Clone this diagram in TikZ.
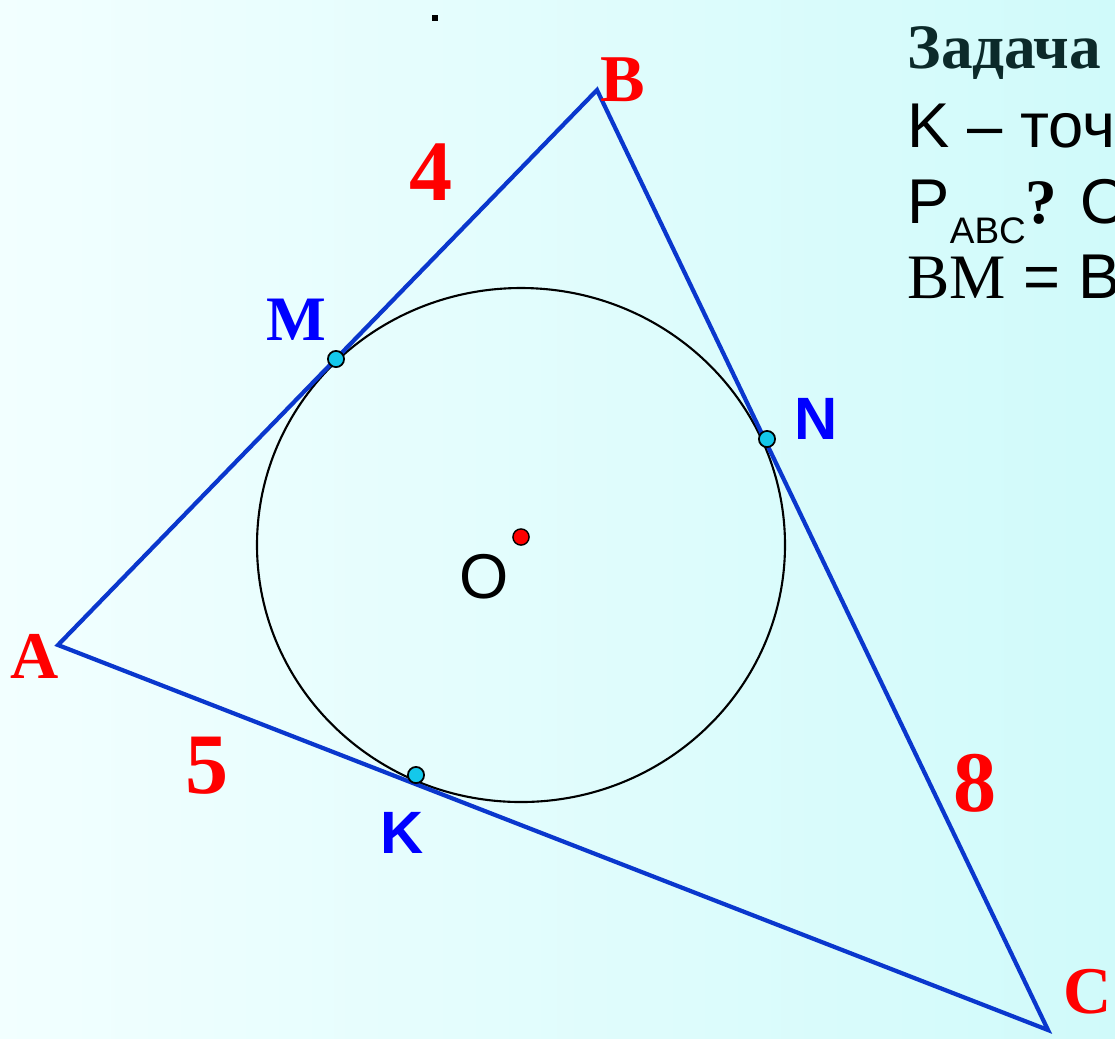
\documentclass[tikz,border=0pt]{standalone}
\usepackage{fontspec}
\setmainfont{Liberation Serif}
\setsansfont{Liberation Sans}
\usetikzlibrary{positioning}

\definecolor{sideblue}{RGB}{10,55,205}
\definecolor{ptcyan}{RGB}{20,200,235}
\definecolor{titleteal}{RGB}{12,42,42}
\definecolor{bgleft}{RGB}{242,255,255}
\definecolor{bgright}{RGB}{208,250,250}

\tikzset{
  vlabel/.style={text=red,font=\bfseries\fontsize{19}{19}\selectfont,inner sep=0pt},
  numlabel/.style={text=red,font=\bfseries\fontsize{24.5}{24.5}\selectfont,inner sep=0pt},
  tplabel/.style={text=blue,font=\sffamily\bfseries\fontsize{17}{17}\selectfont,inner sep=0pt},
  tpoint/.style={circle,draw=black,fill=ptcyan,line width=0.5pt,inner sep=0pt,minimum size=4.6pt},
  cpoint/.style={circle,draw=black,fill=red,line width=0.4pt,inner sep=0pt,minimum size=4.6pt},
  tasktext/.style={anchor=base west,inner sep=0pt,font=\sffamily\fontsize{18}{18}\selectfont}
}

\begin{document}
\begin{tikzpicture}[x=0.01cm,y=-0.01cm]
    \useasboundingbox (0,0) rectangle (1115,1038);
    \clip (0,0) rectangle (1115,1038);
    \shade[left color=bgleft,right color=bgright] (0,0) rectangle (1115,1038);

    \coordinate (A) at (58,645);
    \coordinate (B) at (597,90);
    \coordinate (C) at (1048,1030);
    \coordinate (Oc) at (521,545);

    % incircle and triangle
    \draw[line width=0.6pt] (Oc) ellipse (264 and 257);
    \draw[sideblue,line width=1.2pt,line join=miter] (A) -- (B) -- (C) -- cycle;

    \node[tpoint] (M) at (336,359) {};
    \node[tpoint] (N) at (767,439) {};
    \node[tpoint] (K) at (416,775) {};
    \node[cpoint] (O) at (521,537) {};

    \fill (432,15) rectangle (438,21);

    \node[vlabel] (lA) at (35,656) {A};
    \node[vlabel] (lB) at (623,80) {B};
    \node[vlabel] (lC) at (1088,992) {C};

    \node[numlabel] (n4) at (431,172) {4};
    \node[numlabel] (n5) at (207,766) {5};
    \node[numlabel] (n8) at (975,783) {8};

    \node[text=blue,font=\bfseries\fontsize{18}{18}\selectfont,inner sep=0pt] (lM) at (296,320) {M};
    \node[tplabel] (lN) at (816,419) {N};
    \node[tplabel] (lK) at (402,833) {K};
    \node[inner sep=0pt,font=\sffamily\fontsize{18}{18}\selectfont] (lO) at (484,577) {O};

    % task text, cut off at the right edge
    \node[anchor=base west,inner sep=0pt,text=titleteal,font=\bfseries\fontsize{18}{18}\selectfont] (title) at (907,68) {Задача};
    \node[tasktext] (line1) at (907,147) {K – точ};
    \node[tasktext] (line2) at (907,223) {P\raisebox{-0.33em}{\fontsize{10.5}{10.5}\selectfont ABC}\textrm{\bfseries ?} O};
    \node[tasktext] (line3) at (907,298) {\textrm{BM} = B};

  \end{tikzpicture}
\end{document}
